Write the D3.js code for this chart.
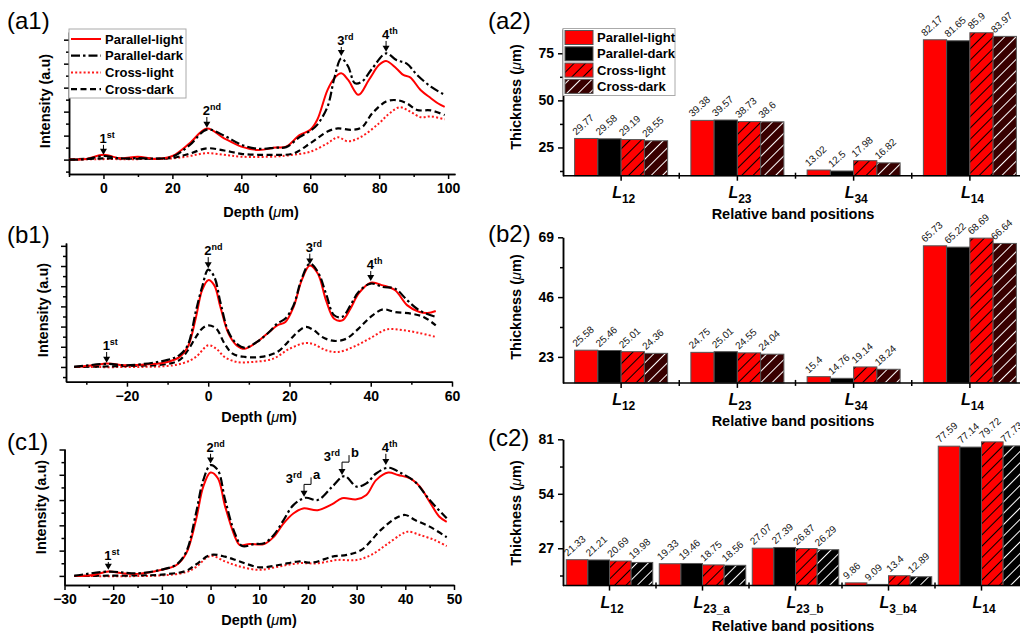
<!doctype html>
<html lang="en">
<head>
<meta charset="utf-8">
<style>
  body { margin: 0; background: #fff; }
  svg { font-family: "Liberation Sans", Arial, sans-serif; }
  .panel-label { font-size: 24px; }
  .axis-title { font-size: 14.5px; font-weight: bold; }
  .tick-text { font-size: 14px; font-weight: bold; fill: #000; }
  .val-label { font-size: 10px; fill: #111; }
</style>
<script src="https://d3js.org/d3.v7.min.js"></script>
</head>
<body>
<script>
// ---------- data ----------
const seriesNames = ["Parallel-light", "Parallel-dark", "Cross-light", "Cross-dark"];

// intensity profiles, [depth (um), intensity (a.u.)]
const a1ParallelLight = [[-10,0],[-5,0.03],[0,0.2],[5,0.05],[10,0.12],[15,0.03],[20,0.15],[25,0.68],[30,1.3],[35,0.89],[40,0.54],[45,0.4],[50,0.5],[53,0.54],[57,1.03],[60,1.24],[62,1.65],[65,2.9],[67,3.4],[69,3.6],[71,3.32],[74,2.7],[77,3.32],[80,3.95],[82,4.11],[85,3.8],[87,3.53],[89,3.43],[92,2.9],[95,2.56],[97,2.35],[99,2.2]];
const a1ParallelDark = [[-10,0],[-5,0.02],[0,0.15],[5,0.05],[10,0.06],[15,0.04],[20,0.12],[25,0.6],[30,1.25],[35,1.0],[40,0.62],[45,0.45],[50,0.5],[53,0.52],[57,0.95],[60,1.2],[62,1.45],[65,2.2],[67,3.4],[69,4.22],[71,3.88],[73,3.18],[75,3.25],[78,3.8],[82,4.43],[85,4.15],[88,4.0],[91,3.53],[95,3.04],[99,2.7]];
const a1CrossLight = [[-10,0],[0,0.02],[10,0.02],[20,0.05],[25,0.15],[30,0.27],[35,0.2],[40,0.12],[50,0.13],[55,0.2],[60,0.33],[65,0.68],[68,0.93],[71,0.76],[75,0.97],[80,1.52],[83,1.93],[86,2.18],[89,2.0],[92,1.77],[95,1.8],[99,1.68]];
const a1CrossDark = [[-10,0],[0,0.05],[10,0.04],[20,0.07],[25,0.25],[30,0.47],[35,0.38],[40,0.24],[45,0.2],[50,0.2],[55,0.25],[60,0.68],[65,1.17],[68,1.3],[72,1.24],[75,1.35],[78,1.93],[82,2.42],[85,2.48],[88,2.35],[91,2.07],[95,2.05],[99,1.86]];

const b1ParallelLight = [[-33,0],[-28,0.08],[-25,0.17],[-20,0.08],[-15,0.13],[-10,0.25],[-7,0.5],[-5,1.0],[-3,2.48],[-1.5,3.8],[0,4.3],[1.5,4.04],[3,2.97],[5,1.65],[7,1.07],[9,0.9],[12,1.24],[15,1.73],[17,2.06],[19,2.23],[21,2.97],[23,4.29],[25,5.03],[27,4.62],[29,3.3],[31,2.39],[33,2.31],[35,2.89],[37,3.63],[40,4.17],[43,4.04],[46,3.8],[49,3.05],[52,2.72],[54,2.67],[56,2.77]];
const b1ParallelDark = [[-33,0],[-25,0.15],[-20,0.08],[-10,0.35],[-7,0.6],[-5,1.1],[-3,2.8],[-1.5,3.96],[0,4.82],[1.5,4.46],[3,3.2],[5,1.73],[7,1.15],[9,0.95],[12,1.24],[15,1.73],[17,2.15],[19,2.4],[21,3.05],[23,4.37],[25,5.12],[27,4.7],[29,3.63],[31,2.56],[33,2.48],[35,3.05],[37,3.71],[40,4.13],[43,3.96],[46,3.88],[49,3.3],[52,2.8],[56,2.48]];
const b1CrossLight = [[-33,0],[-10,0.05],[-6,0.2],[-3,0.5],[0,1.07],[2,0.9],[4,0.5],[7,0.25],[11,0.25],[16,0.41],[20,0.9],[24,1.19],[26,1.12],[29,0.83],[32,0.74],[36,1.02],[40,1.44],[44,1.86],[48,1.82],[52,1.68],[56,1.49]];
const b1CrossDark = [[-33,0],[-20,0.05],[-10,0.15],[-7,0.35],[-5,0.83],[-3,1.49],[-1.5,1.9],[0,2.06],[2,1.9],[4,1.16],[6,0.66],[9,0.5],[13,0.5],[17,0.74],[20,1.32],[22,1.73],[24,1.98],[26,1.82],[28,1.49],[31,1.29],[34,1.4],[37,1.9],[40,2.48],[43,2.85],[46,2.72],[50,2.64],[53,2.48],[56,2.06]];

const c1ParallelLight = [[-28,0],[-24,0.04],[-21,0.17],[-18,0.1],[-15,0.08],[-10,0.24],[-7,0.43],[-5,0.89],[-3,2.21],[-1.5,3.53],[0,4.09],[1.5,3.86],[3,2.74],[5,1.55],[6,1.22],[8,1.26],[11,1.26],[13,1.55],[15,2.08],[17,2.47],[19,2.67],[22,2.6],[25,2.84],[27,3.07],[30,3.03],[32,3.2],[34,3.79],[36.5,4.09],[38.5,3.99],[41,3.86],[43,3.53],[45,2.93],[47,2.34],[48.5,2.14]];
const c1ParallelDark = [[-28,0],[-21,0.17],[-15,0.1],[-10,0.25],[-7,0.45],[-5,0.95],[-3,2.47],[-1.5,3.79],[0,4.38],[1.5,4.18],[3,3.0],[5,1.68],[6.5,1.18],[9,1.26],[11,1.29],[13,1.62],[15,2.21],[17,2.8],[19.5,3.09],[22,3.0],[25,3.53],[27.5,3.95],[30,3.53],[32,3.66],[34,4.05],[36.5,4.28],[39,4.08],[42,3.72],[45,3.0],[48.5,2.28]];
const c1CrossLight = [[-28,0],[-10,0.02],[-5,0.15],[-3,0.35],[0,0.79],[3,0.57],[6,0.37],[10,0.24],[14,0.37],[18,0.5],[22,0.5],[26,0.63],[30,0.63],[33,0.83],[36,1.22],[39,1.62],[40.5,1.75],[43,1.62],[46,1.42],[48.5,1.18]];
const c1CrossDark = [[-28,0],[-15,0.02],[-10,0.05],[-5,0.2],[-3,0.45],[0,0.83],[3,0.76],[6,0.57],[10,0.34],[14,0.43],[18,0.57],[21,0.53],[25,0.76],[28,0.83],[31,1.03],[35,1.82],[38,2.28],[40,2.41],[42,2.21],[45,1.95],[48.5,1.53]];

const a1XTicks = [0, 20, 40, 60, 80, 100];
const b1XTicks = [-20, 0, 20, 40, 60];
const c1XTicks = [-30, -20, -10, 0, 10, 20, 30, 40, 50];

// peak markers: depth, label height, arrow tip height (a.u.)
const a1Peaks = [{x: 0, num: "1", sup: "st", lab: 0.7, tip: 0.2}, {x: 30, num: "2", sup: "nd", lab: 1.86, tip: 1.33},
                 {x: 69, num: "3", sup: "rd", lab: 4.78, tip: 4.32}, {x: 82, num: "4", sup: "th", lab: 5.03, tip: 4.5}];
const b1Peaks = [{x: -25, num: "1", sup: "st", lab: 0.84, tip: 0.21}, {x: 0, num: "2", sup: "nd", lab: 5.54, tip: 4.89},
                 {x: 25, num: "3", sup: "rd", lab: 5.71, tip: 5.08}, {x: 40, num: "4", sup: "th", lab: 4.85, tip: 4.26}];
const c1Peaks = [{x: -21, num: "1", sup: "st", lab: 0.63, tip: 0.24}, {x: 0, num: "2", sup: "nd", lab: 4.91, tip: 4.45},
                 {x: 19.2, num: "3", sup: "rd", tag: "a", lab: 3.66, tip: 3.13},
                 {x: 27, num: "3", sup: "rd", tag: "b", lab: 4.54, tip: 3.99},
                 {x: 36, num: "4", sup: "th", lab: 4.91, tip: 4.39}];

// thickness bars
const a2Categories = ["12", "23", "34", "14"];
const a2Values = [[29.77, 29.58, 29.19, 28.55], [39.38, 39.57, 38.73, 38.6], [13.02, 12.5, 17.98, 16.82], [82.17, 81.65, 85.9, 83.97]];
const a2Ticks = [25, 50, 75];

const b2Categories = ["12", "23", "34", "14"];
const b2Values = [[25.58, 25.46, 25.01, 24.36], [24.75, 25.01, 24.55, 24.04], [15.4, 14.76, 19.14, 18.24], [65.73, 65.22, 68.69, 66.64]];
const b2Ticks = [23, 46, 69];

const c2Categories = ["12", "23_a", "23_b", "3_b4", "14"];
const c2Values = [[21.33, 21.21, 20.69, 19.98], [19.33, 19.46, 18.75, 18.56], [27.07, 27.39, 26.87, 26.29], [9.86, 9.09, 13.4, 12.89], [77.59, 77.14, 79.72, 77.73]];
const c2Ticks = [27, 54, 81];

// ---------- drawing ----------
const W = 1020, H = 633;
const svg = d3.select("body").append("svg").attr("width", W).attr("height", H);
const defs = svg.append("defs");

function hatch(id, bg, fg) {
  const p = defs.append("pattern").attr("id", id).attr("patternUnits", "userSpaceOnUse")
    .attr("width", 8).attr("height", 8).attr("patternTransform", "rotate(45)");
  p.append("rect").attr("width", 8).attr("height", 8).attr("fill", bg);
  p.append("line").attr("x1", 0).attr("y1", 0).attr("x2", 0).attr("y2", 8)
    .attr("stroke", fg).attr("stroke-width", 2);
}
hatch("hRed", "#ff0000", "#000");
hatch("hMaroon", "#380000", "#fff");
hatch("hBlack", "#000", "#fff");

const lineStyle = {
  "Parallel-light": {color: "#ff0000", dash: null, w: 2},
  "Parallel-dark": {color: "#000", dash: "9,3,2.5,3", w: 2.2},
  "Cross-light": {color: "#ff1a1a", dash: "2,2.2", w: 2},
  "Cross-dark": {color: "#000", dash: "6,3.5", w: 2.2}
};

function styleAxis(sel) {
  sel.select(".domain").attr("stroke", "#000").attr("stroke-width", 1.5);
  sel.selectAll(".tick line").attr("stroke", "#000").attr("stroke-width", 1.5);
  sel.selectAll(".tick text").attr("class", "tick-text").attr("font-size", null).attr("font-family", null);
  sel.attr("font-size", null).attr("font-family", null);
}

function linePanel(p) {
  const g = svg.append("g");
  const x = d3.scaleLinear().domain(p.xDomain).range(p.xRange);
  const y = d3.scaleLinear().domain(p.yDomain).range(p.yRange);
  const yb = p.yRange[0];

  const minorX = d3.range(Math.ceil(p.xDomain[0] / p.xMinor) * p.xMinor, p.xDomain[1] + 0.01, p.xMinor)
    .filter(v => !p.xTicks.includes(v));
  g.append("g").attr("transform", `translate(0,${yb})`)
    .call(d3.axisBottom(x).tickValues(minorX).tickSize(3).tickSizeOuter(0).tickFormat(""))
    .call(styleAxis);
  g.append("g").attr("transform", `translate(0,${yb})`)
    .call(d3.axisBottom(x).tickValues(p.xTicks).tickSize(5).tickSizeOuter(0).tickPadding(4))
    .call(styleAxis);

  const majorY = d3.range(0, Math.floor(p.yDomain[1]) + 1);
  const minorY = d3.range(-0.5, p.yDomain[1], 1).filter(v => v > p.yDomain[0]);
  g.append("g").attr("transform", `translate(${p.xRange[0]},0)`)
    .call(d3.axisLeft(y).tickValues(minorY).tickSize(3).tickSizeOuter(0).tickFormat(""))
    .call(styleAxis);
  g.append("g").attr("transform", `translate(${p.xRange[0]},0)`)
    .call(d3.axisLeft(y).tickValues(majorY).tickSize(5).tickSizeOuter(0).tickFormat(""))
    .call(styleAxis);

  const line = d3.line().x(d => x(d[0])).y(d => y(d[1])).curve(d3.curveCatmullRom.alpha(0.5));
  ["Cross-light", "Cross-dark", "Parallel-light", "Parallel-dark"].forEach(name => {
    const s = lineStyle[name];
    g.append("path").datum(p.series[name]).attr("d", line)
      .attr("fill", "none").attr("stroke", s.color).attr("stroke-width", s.w)
      .attr("stroke-dasharray", s.dash);
  });

  // peak arrows
  p.peaks.forEach(a => {
    const px = x(a.x), pl = y(a.lab), pt = y(a.tip);
    if (a.tag) {
      const t = g.append("text").attr("x", px - 2).attr("y", pl).attr("text-anchor", "end")
        .attr("font-size", 13).attr("font-weight", "bold");
      t.append("tspan").text(a.num);
      t.append("tspan").attr("dy", -5).attr("font-size", 9).text(a.sup);
      g.append("path").attr("d", `M${px},${pl + 1}H${px + 7}V${pl - 6}`)
        .attr("fill", "none").attr("stroke", "#000").attr("stroke-width", 1);
      g.append("text").attr("x", px + 9).attr("y", pl - 4).attr("font-size", 13)
        .attr("font-weight", "bold").text(a.tag);
      g.append("line").attr("x1", px).attr("x2", px).attr("y1", pl + 1).attr("y2", pt - 5)
        .attr("stroke", "#000").attr("stroke-width", 1);
    } else {
      const t = g.append("text").attr("x", px - 4).attr("y", pl).attr("font-size", 13).attr("font-weight", "bold");
      t.append("tspan").text(a.num);
      t.append("tspan").attr("dy", -5).attr("font-size", 9).text(a.sup);
      g.append("line").attr("x1", px).attr("x2", px).attr("y1", pl + 2).attr("y2", pt - 5)
        .attr("stroke", "#000").attr("stroke-width", 1);
    }
    g.append("path").attr("d", `M${px - 3.5},${pt - 6}L${px + 3.5},${pt - 6}L${px},${pt}Z`).attr("fill", "#000");
  });

  // titles
  const xt = g.append("text").attr("class", "axis-title").attr("text-anchor", "middle")
    .attr("x", p.xTitle[0]).attr("y", p.xTitle[1]);
  xt.append("tspan").text("Depth (");
  xt.append("tspan").attr("font-style", "italic").attr("font-weight", "normal").text("μ");
  xt.append("tspan").text("m)");
  g.append("text").attr("class", "axis-title").attr("text-anchor", "middle")
    .attr("transform", `translate(${p.yTitle[0]},${p.yTitle[1]}) rotate(-90)`).text("Intensity (a.u)");
  g.append("text").attr("class", "panel-label").attr("x", p.label[0]).attr("y", p.label[1]).text(p.label[2]);

  if (p.legend) {
    const lg = g.append("g").attr("transform", `translate(${p.xRange[0]},29)`);
    lg.append("rect").attr("width", 117).attr("height", 69).attr("fill", "#fff")
      .attr("stroke", "#aaa").attr("stroke-width", 1);
    seriesNames.forEach((name, i) => {
      const s = lineStyle[name];
      const yy = 10 + i * 16.7;
      lg.append("line").attr("x1", 2).attr("x2", 32).attr("y1", yy).attr("y2", yy)
        .attr("stroke", s.color).attr("stroke-width", s.w).attr("stroke-dasharray", s.dash);
      lg.append("text").attr("x", 36).attr("y", yy + 4.5).attr("font-size", 13)
        .attr("font-weight", "bold").text(name);
    });
  }
}

linePanel({
  xDomain: [-10, 102], xRange: [69, 455], yDomain: [-0.6, 5.32], yRange: [174, 32],
  xTicks: a1XTicks, xMinor: 10, peaks: a1Peaks, legend: true,
  series: {"Parallel-light": a1ParallelLight, "Parallel-dark": a1ParallelDark, "Cross-light": a1CrossLight, "Cross-dark": a1CrossDark},
  xTitle: [261, 217], yTitle: [50, 101], label: [7, 29, "(a1)"]
});
linePanel({
  xDomain: [-35, 60], xRange: [66, 452], yDomain: [-0.73, 6.14], yRange: [381.7, 243],
  xTicks: b1XTicks, xMinor: 10, peaks: b1Peaks,
  series: {"Parallel-light": b1ParallelLight, "Parallel-dark": b1ParallelDark, "Cross-light": b1CrossLight, "Cross-dark": b1CrossDark},
  xTitle: [259, 422], yTitle: [48, 310], label: [7, 243, "(b1)"]
});
linePanel({
  xDomain: [-30, 50], xRange: [64.5, 454], yDomain: [-0.36, 5.02], yRange: [585, 449],
  xTicks: c1XTicks, xMinor: 5, peaks: c1Peaks,
  series: {"Parallel-light": c1ParallelLight, "Parallel-dark": c1ParallelDark, "Cross-light": c1CrossLight, "Cross-dark": c1CrossDark},
  xTitle: [259, 625], yTitle: [46, 507], label: [7, 450, "(c1)"]
});

function barPanel(p) {
  const g = svg.append("g");
  const x0 = d3.scaleBand().domain(p.categories).range([563, 1028])
    .paddingInner(p.pad[0]).paddingOuter(p.pad[1]);
  const x1 = d3.scaleBand().domain(seriesNames).range([0, x0.bandwidth()]);
  const y = d3.scaleLinear().domain(p.yDomain).range(p.yRange);
  const yb = p.yRange[0];
  const fills = {"Parallel-light": "#ff0000", "Parallel-dark": "#000", "Cross-light": "url(#hRed)", "Cross-dark": p.darkHatch};

  p.categories.forEach((c, ci) => {
    seriesNames.forEach((s, si) => {
      const v = p.values[ci][si];
      const bx = x0(c) + x1(s);
      g.append("rect").attr("x", bx).attr("y", y(v)).attr("width", x1.bandwidth()).attr("height", yb - y(v))
        .attr("fill", fills[s]).attr("stroke", "#555").attr("stroke-width", 1);
      g.append("text").attr("class", "val-label")
        .attr("transform", `translate(${bx + 1.5},${y(v) - 3}) rotate(-42)`).text(v);
    });
  });

  // axes
  const bounds = p.categories.slice(1).map(c => x0(c) - x0.step() * x0.paddingInner() / 2);
  const xa = g.append("g").attr("transform", `translate(0,${yb})`);
  xa.append("line").attr("x1", 563).attr("x2", 1028).attr("stroke", "#000").attr("stroke-width", 1.5);
  p.categories.forEach(c => {
    const cx = x0(c) + x0.bandwidth() / 2;
    xa.append("line").attr("x1", cx).attr("x2", cx).attr("y1", 0).attr("y2", 5).attr("stroke", "#000").attr("stroke-width", 1.5);
    const t = xa.append("text").attr("x", cx - 9).attr("y", p.catLabelY).attr("font-size", 16).attr("font-weight", "bold");
    t.append("tspan").attr("font-style", "italic").text("L");
    t.append("tspan").attr("dy", 5).attr("font-size", 12).text(c);
  });
  bounds.forEach(bx => {
    xa.append("line").attr("x1", bx).attr("x2", bx).attr("y1", -3).attr("y2", 3).attr("stroke", "#000").attr("stroke-width", 1.5);
  });

  const minorY = p.ticks.map(t => t - (p.ticks[1] - p.ticks[0]) / 2).filter(v => v > p.yDomain[0]);
  g.append("g").attr("transform", "translate(563,0)")
    .call(d3.axisLeft(y).tickValues(minorY).tickSize(3).tickSizeOuter(0).tickFormat(""))
    .call(styleAxis);
  g.append("g").attr("transform", "translate(563,0)")
    .call(d3.axisLeft(y).tickValues(p.ticks).tickSize(5).tickSizeOuter(0).tickPadding(4))
    .call(styleAxis);

  g.append("text").attr("class", "axis-title").attr("text-anchor", "middle")
    .attr("x", 793).attr("y", p.xTitleY).text("Relative band positions");
  const yt = g.append("text").attr("class", "axis-title").attr("text-anchor", "middle")
    .attr("transform", `translate(${p.yTitle[0]},${p.yTitle[1]}) rotate(-90)`);
  yt.append("tspan").text("Thickness (");
  yt.append("tspan").attr("font-style", "italic").attr("font-weight", "normal").text("μ");
  yt.append("tspan").text("m)");
  g.append("text").attr("class", "panel-label").attr("x", 488).attr("y", p.label[0]).text(p.label[1]);

  if (p.legend) {
    const lg = g.append("g").attr("transform", "translate(563,28.5)");
    lg.append("rect").attr("width", 112).attr("height", 67).attr("fill", "#fff")
      .attr("stroke", "#aaa").attr("stroke-width", 1);
    seriesNames.forEach((s, i) => {
      const yy = 2 + i * 16.3;
      lg.append("rect").attr("x", 2).attr("y", yy).attr("width", 28).attr("height", 14)
        .attr("fill", fills[s]).attr("stroke", "#555").attr("stroke-width", 1);
      lg.append("text").attr("x", 34).attr("y", yy + 11.5).attr("font-size", 13)
        .attr("font-weight", "bold").text(s);
    });
  }
}

barPanel({
  categories: a2Categories, values: a2Values, ticks: a2Ticks, pad: [0.2, 0.1],
  yDomain: [10, 88], yRange: [175.7, 28.8], darkHatch: "url(#hMaroon)", legend: true,
  catLabelY: 22, xTitleY: 219, yTitle: [521, 97], label: [29, "(a2)"]
});
barPanel({
  categories: b2Categories, values: b2Values, ticks: b2Ticks, pad: [0.2, 0.1],
  yDomain: [13, 69], yRange: [382.9, 237.3], darkHatch: "url(#hMaroon)",
  catLabelY: 22, xTitleY: 426, yTitle: [521, 307], label: [242, "(b2)"]
});
barPanel({
  categories: c2Categories, values: c2Values, ticks: c2Ticks, pad: [0.07, 0.035],
  yDomain: [8.5, 81], yRange: [585.6, 439.3], darkHatch: "url(#hBlack)",
  catLabelY: 22, xTitleY: 631, yTitle: [521, 513], label: [446, "(c2)"]
});
</script>
</body>
</html>
